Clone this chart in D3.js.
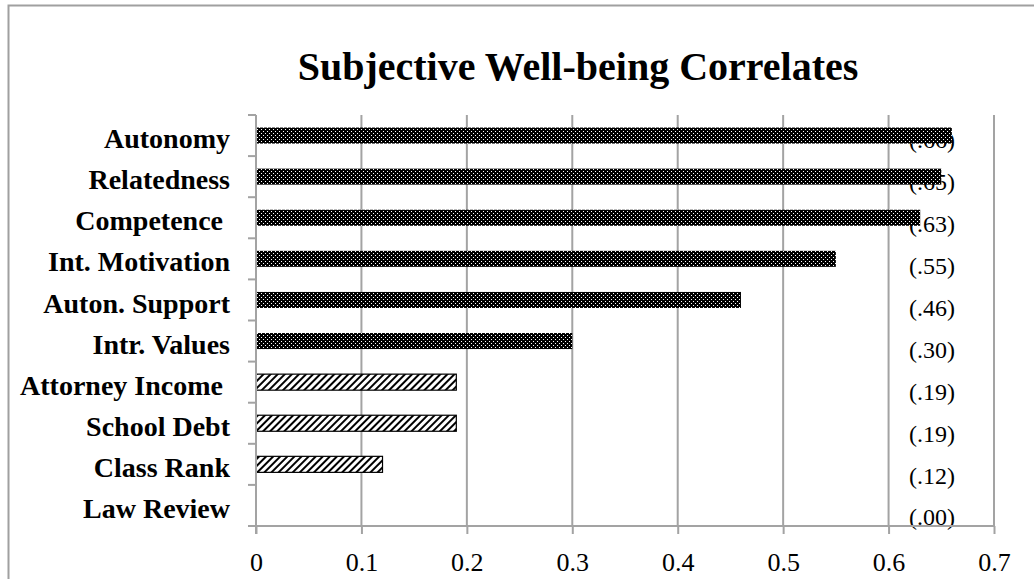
<!DOCTYPE html>
<html>
<head>
<meta charset="utf-8">
<script src="https://cdn.jsdelivr.net/npm/d3@7"></script>
<style>
  html, body { margin: 0; padding: 0; background: #fff; }
  svg { display: block; }
  text { font-family: 'Liberation Serif', 'Times New Roman', serif; fill: #000; white-space: pre; }
</style>
</head>
<body>
<svg id="chart" width="1034" height="579"></svg>
<script>
// values
const categories = [
  'Autonomy', 'Relatedness', 'Competence ', 'Int. Motivation', 'Auton. Support',
  'Intr. Values', 'Attorney Income ', 'School Debt', 'Class Rank', 'Law Review',
];
const values = [0.66, 0.65, 0.63, 0.55, 0.46, 0.30, 0.19, 0.19, 0.12, 0.0];
// psychological needs vs. external factors
const groups = [
  'psych', 'psych', 'psych', 'psych', 'psych',
  'psych', 'external', 'external', 'external', 'external',
];
const xTicks = [0, 0.1, 0.2, 0.3, 0.4, 0.5, 0.6, 0.7];
const title = 'Subjective Well-being Correlates';

const data = categories.map((c, i) => ({ name: c, value: values[i], group: groups[i] }));

const W = 1034, H = 579;
const plot = { left: 256, right: 994, top: 115, bottom: 526 };
const gridColor = '#a3a3a3';

const svg = d3.select('#chart');

// outer chart frame (right and bottom edges run off the picture)
svg.append('rect')
  .attr('x', 8.5).attr('y', 5.5)
  .attr('width', W + 20).attr('height', H + 20)
  .attr('fill', '#fff')
  .attr('stroke', '#a0a0a0')
  .attr('stroke-width', 2);

const defs = svg.append('defs');

// dark dotted fill
const dots = defs.append('pattern')
  .attr('id', 'dots')
  .attr('patternUnits', 'userSpaceOnUse')
  .attr('width', 4).attr('height', 4);
dots.append('rect').attr('width', 4).attr('height', 4).attr('fill', '#000');
dots.append('rect').attr('x', 1).attr('y', 1).attr('width', 1).attr('height', 1).attr('fill', '#fff');
dots.append('rect').attr('x', 3).attr('y', 3).attr('width', 1).attr('height', 1).attr('fill', '#fff');

// diagonal hatch
const hatch = defs.append('pattern')
  .attr('id', 'hatch')
  .attr('patternUnits', 'userSpaceOnUse')
  .attr('width', 5).attr('height', 5)
  .attr('patternTransform', 'rotate(45)');
hatch.append('rect').attr('width', 5).attr('height', 5).attr('fill', '#fff');
hatch.append('rect').attr('width', 2).attr('height', 5).attr('fill', '#000');

const x = d3.scaleLinear().domain([0, 0.7]).range([plot.left, plot.right]);
const y = d3.scaleBand()
  .domain(categories)
  .range([plot.top, plot.bottom])
  .paddingInner(0.61)
  .paddingOuter(0.305);
const step = y.step();
const bandStart = (name) => y(name) - y.paddingOuter() * step;

// title
svg.append('text')
  .attr('x', 578).attr('y', 80)
  .attr('text-anchor', 'middle')
  .attr('font-size', 40)
  .attr('font-weight', 'bold')
  .text(title);

// vertical gridlines
svg.append('g')
  .selectAll('line')
  .data(xTicks.filter((t) => t > 0))
  .join('line')
  .attr('x1', (d) => x(d)).attr('x2', (d) => x(d))
  .attr('y1', plot.top).attr('y2', plot.bottom)
  .attr('stroke', gridColor).attr('stroke-width', 2);

// value annotations sit behind the bars
const labelY = d3.scalePoint().domain(categories).range([140, 517]);
const fmt = (v) => '(' + d3.format('.2f')(v).replace(/^0/, '') + ')';
svg.append('g')
  .selectAll('text')
  .data(data)
  .join('text')
  .attr('x', 932)
  .attr('y', (d) => labelY(d.name))
  .attr('dy', '0.35em')
  .attr('text-anchor', 'middle')
  .attr('font-size', 24)
  .attr('fill', '#222')
  .text((d) => fmt(d.value));

// bars
svg.append('g')
  .selectAll('rect')
  .data(data.filter((d) => d.value > 0))
  .join('rect')
  .attr('x', x(0))
  .attr('y', (d) => y(d.name))
  .attr('width', (d) => x(d.value) - x(0))
  .attr('height', y.bandwidth())
  .attr('fill', (d) => (d.group === 'psych' ? 'url(#dots)' : 'url(#hatch)'))
  .attr('stroke', (d) => (d.group === 'psych' ? 'none' : '#000'))
  .attr('stroke-width', 1.2);

// x axis
const xAxis = svg.append('g')
  .attr('transform', `translate(0,${plot.bottom})`)
  .call(d3.axisBottom(x).tickValues(xTicks).tickSize(8).tickPadding(12)
    .tickFormat((d) => (d === 0 ? '0' : d3.format('.1f')(d))));
xAxis.select('.domain').attr('stroke', gridColor).attr('stroke-width', 2)
  .attr('d', `M${plot.left - 8},0H${plot.right}`);
xAxis.selectAll('.tick line').attr('stroke', gridColor).attr('stroke-width', 2);
xAxis.selectAll('.tick text')
  .attr('font-family', null)
  .attr('font-size', 26)
  .attr('fill', '#111')
  .attr('dy', '0.95em');

// y axis line with ticks at band boundaries
const yAxis = svg.append('g');
yAxis.append('line')
  .attr('x1', plot.left).attr('x2', plot.left)
  .attr('y1', plot.top).attr('y2', plot.bottom + 8)
  .attr('stroke', gridColor).attr('stroke-width', 2);
yAxis.selectAll('line.tick')
  .data(categories)
  .join('line')
  .attr('class', 'tick')
  .attr('x1', plot.left - 8).attr('x2', plot.left)
  .attr('y1', (d) => bandStart(d)).attr('y2', (d) => bandStart(d))
  .attr('stroke', gridColor).attr('stroke-width', 2);

// category labels
yAxis.selectAll('text')
  .data(categories)
  .join('text')
  .attr('x', 230)
  .attr('y', (d) => bandStart(d) + step / 2)
  .attr('dy', '0.45em')
  .attr('text-anchor', 'end')
  .attr('font-size', 28)
  .attr('font-weight', 'bold')
  .attr('xml:space', 'preserve')
  .text((d) => d);
</script>
</body>
</html>
